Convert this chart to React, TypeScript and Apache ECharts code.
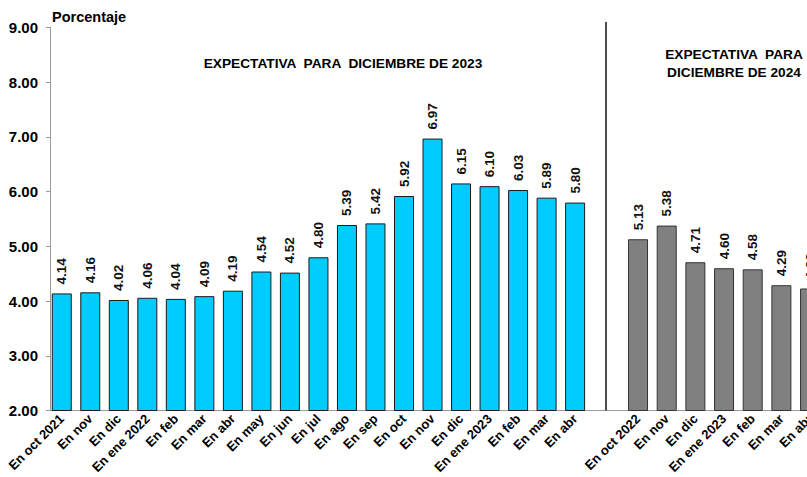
import React, { useEffect, useRef } from "react";
import * as echarts from "echarts";

const blueCategories = [
  "En oct 2021", "En nov", "En dic", "En ene 2022", "En feb", "En mar", "En abr",
  "En may", "En jun", "En jul", "En ago", "En sep", "En oct", "En nov", "En dic",
  "En ene 2023", "En feb", "En mar", "En abr",
];
const blueValues = [
  4.14, 4.16, 4.02, 4.06, 4.04, 4.09, 4.19, 4.54, 4.52, 4.8, 5.39, 5.42, 5.92,
  6.97, 6.15, 6.1, 6.03, 5.89, 5.8,
];
const grayCategories = ["En oct 2022", "En nov", "En dic", "En ene 2023", "En feb", "En mar", "En abr"];
const grayValues = [5.13, 5.38, 4.71, 4.6, 4.58, 4.29, 4.23];

const yMin = 2;
const yMax = 9;
const yInterval = 1;

const FONT = "'Liberation Sans', Arial, sans-serif";
const AXIS_GRAY = "#9a9a9a";

function labelSeries(values: number[], axisIndex: number) {
  return {
    type: "custom",
    xAxisIndex: axisIndex,
    yAxisIndex: axisIndex,
    data: values.map((v, i) => [i, v]),
    silent: true,
    z: 10,
    renderItem: (_params: any, api: any) => {
      const pt = api.coord([api.value(0), api.value(1)]);
      return {
        type: "text",
        x: pt[0],
        y: pt[1] - 9,
        rotation: Math.PI / 2,
        style: {
          text: Number(api.value(1)).toFixed(2),
          font: `bold 13.5px ${FONT}`,
          fill: "#111",
          align: "left",
          verticalAlign: "middle",
        },
      };
    },
  };
}

export default function App() {
  const ref = useRef<HTMLDivElement>(null);

  useEffect(() => {
    if (!ref.current) return;
    const chart = echarts.init(ref.current, undefined, { renderer: "svg" });
    const top = 27.5;
    const height = 383;
    const g1Left = 47.5;
    const g1Width = 19 * 28.52;
    const g2Left = 623.7;
    const g2Width = 7 * 28.67;

    const xAxisCommon = {
      type: "category" as const,
      axisLine: { show: true, lineStyle: { color: AXIS_GRAY, width: 1 } },
      axisTick: { show: false },
      axisLabel: {
        interval: 0,
        rotate: 45,
        margin: 6,
        fontFamily: FONT,
        fontWeight: "bold" as const,
        fontSize: 13,
        color: "#000",
      },
    };

    chart.setOption({
      animation: false,
      backgroundColor: "#fff",
      grid: [
        { left: g1Left, top, width: g1Width, height },
        { left: g2Left, top, width: g2Width, height },
      ],
      xAxis: [
        { ...xAxisCommon, gridIndex: 0, data: blueCategories },
        { ...xAxisCommon, gridIndex: 1, data: grayCategories },
      ],
      yAxis: [
        {
          type: "value",
          gridIndex: 0,
          min: yMin,
          max: yMax,
          interval: yInterval,
          offset: -2.5,
          axisLine: { show: true, lineStyle: { color: AXIS_GRAY, width: 1 } },
          axisTick: { show: true, length: 4, lineStyle: { color: AXIS_GRAY } },
          splitLine: { show: false },
          axisLabel: {
            margin: 12,
            formatter: (v: number) => v.toFixed(2),
            fontFamily: FONT,
            fontWeight: "bold",
            fontSize: 15,
            color: "#000",
          },
        },
        {
          type: "value",
          gridIndex: 1,
          min: yMin,
          max: yMax,
          interval: yInterval,
          show: false,
          splitLine: { show: false },
        },
      ],
      series: [
        {
          type: "bar",
          xAxisIndex: 0,
          yAxisIndex: 0,
          data: blueValues,
          barWidth: 20,
          itemStyle: { color: "#00CCFF", borderColor: "#1a1a1a", borderWidth: 1 },
        },
        {
          type: "bar",
          xAxisIndex: 1,
          yAxisIndex: 1,
          data: grayValues,
          barWidth: 20,
          itemStyle: { color: "#808080", borderColor: "#333", borderWidth: 1 },
        },
        labelSeries(blueValues, 0),
        labelSeries(grayValues, 1),
      ],
      graphic: [
        {
          type: "line",
          shape: { x1: g1Left + g1Width, y1: top + height, x2: g2Left, y2: top + height },
          style: { stroke: AXIS_GRAY, lineWidth: 1 },
        },
        {
          type: "line",
          shape: { x1: 606, y1: 22, x2: 606, y2: top + height },
          style: { stroke: "#111", lineWidth: 1.5 },
        },
        {
          type: "text",
          left: 52,
          top: 9,
          style: {
            text: "Porcentaje",
            font: `bold 14.5px ${FONT}`,
            fill: "#000",
          },
        },
        {
          type: "text",
          x: 343,
          y: 63,
          style: {
            text: "EXPECTATIVA  PARA  DICIEMBRE DE 2023",
            font: `bold 13.7px ${FONT}`,
            fill: "#000",
            align: "center",
            verticalAlign: "middle",
          },
        },
        {
          type: "text",
          x: 734,
          y: 63,
          style: {
            text: "EXPECTATIVA  PARA\nDICIEMBRE DE 2024",
            font: `bold 13.7px ${FONT}`,
            fill: "#000",
            align: "center",
            verticalAlign: "middle",
            lineHeight: 18,
          },
        },
      ],
    });
    return () => chart.dispose();
  }, []);

  return (
    <div
      style={{
        position: "absolute",
        left: 0,
        top: 0,
        width: 807,
        height: 477,
        overflow: "hidden",
        background: "#fff",
      }}
    >
      <div ref={ref} style={{ width: 850, height: 477 }} />
    </div>
  );
}
